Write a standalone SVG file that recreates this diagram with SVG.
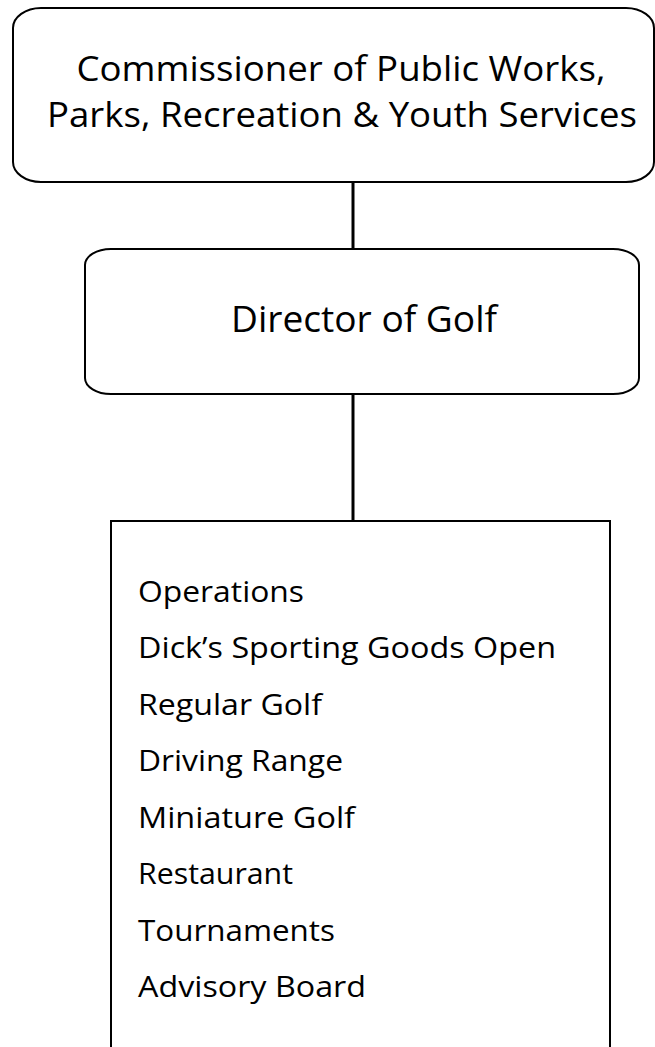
<svg xmlns="http://www.w3.org/2000/svg" width="655" height="1047" viewBox="0 0 655 1047">
<style>
.box{fill:#fff;stroke:#000;stroke-width:2}
.conn{stroke:#000;stroke-width:3;fill:none}
.t{font-family:"Open Sans","Liberation Sans",sans-serif;fill:#000}
.h1{font-size:34px;text-anchor:middle}
.h2{font-size:37px;text-anchor:middle}
.li{font-size:29px}
</style>
<rect width="655" height="1047" fill="#fff"/>
<g id="connectors">
<line class="conn" x1="353" y1="182" x2="353" y2="249"/>
<line class="conn" x1="353" y1="394" x2="353" y2="521"/>
</g>
<g id="commissioner">
<rect class="box" x="13" y="8" width="641" height="174" rx="28" ry="20"/>
<text class="t h1" x="341" y="81" textLength="529" lengthAdjust="spacingAndGlyphs">Commissioner of Public Works,</text>
<text class="t h1" x="342" y="127" textLength="590" lengthAdjust="spacingAndGlyphs">Parks, Recreation &amp; Youth Services</text>
</g>
<g id="director">
<rect class="box" x="85" y="249" width="554" height="145" rx="26" ry="16"/>
<text class="t h2" x="364" y="332" textLength="266" lengthAdjust="spacingAndGlyphs">Director of Golf</text>
</g>
<g id="functions">
<path class="box" d="M111,1060 V521 H610 V1060"/>
<text class="t li" x="138" y="601.5" textLength="166" lengthAdjust="spacingAndGlyphs">Operations</text>
<text class="t li" x="138" y="658" textLength="418" lengthAdjust="spacingAndGlyphs">Dick’s Sporting Goods Open</text>
<text class="t li" x="138" y="714.5" textLength="184" lengthAdjust="spacingAndGlyphs">Regular Golf</text>
<text class="t li" x="138" y="771" textLength="205" lengthAdjust="spacingAndGlyphs">Driving Range</text>
<text class="t li" x="138" y="827.5" textLength="217" lengthAdjust="spacingAndGlyphs">Miniature Golf</text>
<text class="t li" x="138" y="884" textLength="155" lengthAdjust="spacingAndGlyphs">Restaurant</text>
<text class="t li" x="138" y="940.5" textLength="197" lengthAdjust="spacingAndGlyphs">Tournaments</text>
<text class="t li" x="138" y="997" textLength="228" lengthAdjust="spacingAndGlyphs">Advisory Board</text>
</g>
</svg>
